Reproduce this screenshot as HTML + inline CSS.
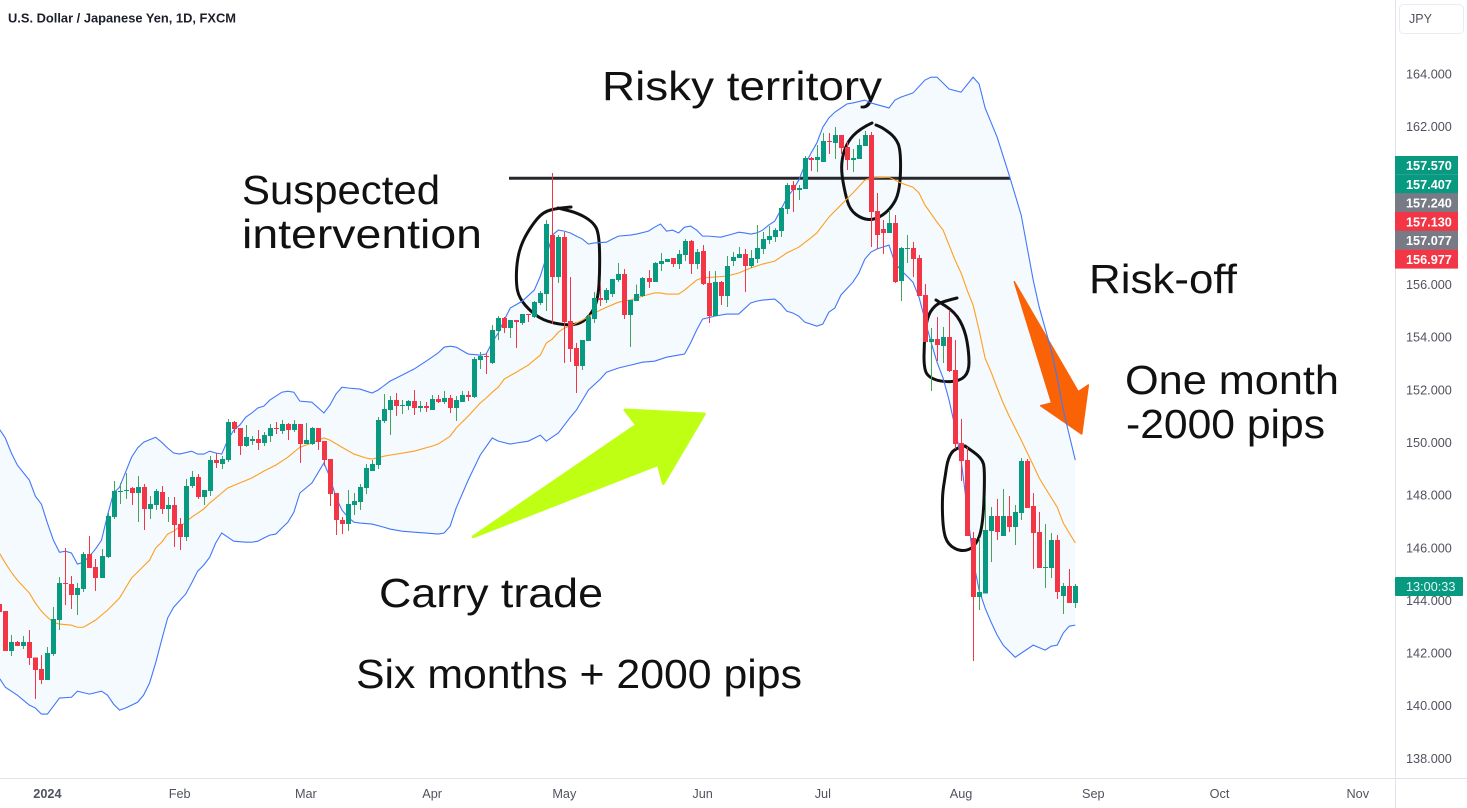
<!DOCTYPE html>
<html lang="en">
<head>
<meta charset="utf-8">
<title>USD/JPY 1D chart</title>
<style>
html,body{margin:0;padding:0;background:#fff;width:1467px;height:808px;overflow:hidden}
svg{display:block}
text{font-family:"Liberation Sans",sans-serif}
.note{font-size:41px;fill:#111}
.tick{font-size:12.7px;fill:#50535e}
.tag{font-size:12.7px;fill:#fff;font-weight:700}
</style>
</head>
<body>
<svg id="chart" width="1467" height="808" viewBox="0 0 1467 808" xmlns="http://www.w3.org/2000/svg">
  <defs><clipPath id="plot-clip"><rect x="0" y="0" width="1395" height="778"/></clipPath></defs>
  <g id="band-layer" clip-path="url(#plot-clip)"></g>

  <g id="drawings">
    <line x1="509" y1="178.3" x2="1010" y2="178.3" stroke="#26282c" stroke-width="3"/>
    <polygon points="473.3,536.7 636.7,425 625,410 704.3,414 663.3,483.3 658.3,464.3" fill="#bfff13" stroke="#bfff13" stroke-width="3" stroke-linejoin="round"/>
    <polygon points="1014.3,281.7 1051.7,403 1040.7,405.7 1081.7,434 1088.3,385 1078.3,391.7" fill="#fa6206" stroke="#fa6206" stroke-width="1.5" stroke-linejoin="round"/>
    <path class="ink" data-pts="571,207 558,208 543,212 532,225 522,242 517,260 516,283 519,298 532,313 547,322 572,326 587,320 598,302 600,267 599,233 593,222 578,213 558,208"/>
    <path class="ink" data-pts="872,123 863,127 850,138 843,153 841,170 845,193 850,210 862,219 875,220 890,210 900,192 901,150 895,137 883,128 876,125"/>
    <path class="ink" data-pts="957,298 945,301 935,305 927,317 924,343 924,370 930,378 943,382 960,381 969,372 969,353 965,330 955,312 936,300"/>
    <path class="ink" data-pts="965,446 955,448 948,458 945,477 942,497 943,530 948,545 962,552 975,547 983,527 985,470 982,458 965,446"/>
    <text class="note" x="602" y="100" textLength="280" lengthAdjust="spacingAndGlyphs">Risky territory</text>
    <text class="note" x="242" y="204" textLength="198" lengthAdjust="spacingAndGlyphs">Suspected</text>
    <text class="note" x="242" y="248" textLength="240" lengthAdjust="spacingAndGlyphs">intervention</text>
    <text class="note" x="1089" y="293" textLength="148" lengthAdjust="spacingAndGlyphs">Risk-off</text>
    <text class="note" x="1125" y="394" textLength="214" lengthAdjust="spacingAndGlyphs">One month</text>
    <text class="note" x="1126" y="438" textLength="199" lengthAdjust="spacingAndGlyphs">-2000 pips</text>
    <text class="note" x="379" y="607" textLength="224" lengthAdjust="spacingAndGlyphs">Carry trade</text>
    <text class="note" x="356" y="688" textLength="446" lengthAdjust="spacingAndGlyphs">Six months + 2000 pips</text>
  </g>

  <g id="line-layer" clip-path="url(#plot-clip)"></g>
  <g id="candle-layer" clip-path="url(#plot-clip)" shape-rendering="crispEdges"></g>

  <text x="8" y="22.5" font-size="13" font-weight="700" fill="#1c1f2a" textLength="228" lengthAdjust="spacingAndGlyphs">U.S. Dollar / Japanese Yen, 1D, FXCM</text>

  <line x1="1395.5" y1="0" x2="1395.5" y2="808" stroke="#e0e3eb"/>
  <line x1="0" y1="778.5" x2="1467" y2="778.5" stroke="#e0e3eb"/>
  <g id="price-axis"></g>
  <g id="time-axis"></g>
  <g id="price-tags"></g>

  <rect x="1399.5" y="4.5" width="64" height="29" rx="4" fill="#fff" stroke="#eaecf2"/>
  <text x="1409" y="23" font-size="12.5" fill="#50535e">JPY</text>

  <rect x="1395" y="577" width="68" height="19" rx="1" fill="#089981"/>
  <text x="1406" y="591" font-size="12.7" fill="#e6f7f3">13:00:33</text>
</svg>

<script>
var opens = [143.86,143.59,142.07,142.41,142.26,142.41,141.84,141.39,140.97,141.96,
143.25,144.66,144.62,144.20,144.43,145.76,145.26,144.85,145.64,147.16,
148.11,148.15,148.27,148.08,148.30,147.47,147.62,148.11,147.47,147.62,
146.90,146.40,148.34,148.68,147.92,148.15,149.33,149.18,149.33,150.77,
150.55,149.86,150.05,150.13,149.98,150.24,150.55,150.43,150.70,150.47,
150.70,149.94,149.94,150.55,150.05,149.37,148.08,147.05,146.90,147.62,
147.73,148.27,148.91,149.14,150.81,151.23,151.61,151.38,151.38,151.57,
151.31,151.38,151.23,151.65,151.53,151.69,151.31,151.53,151.80,151.72,
153.13,153.28,153.02,154.23,154.73,154.35,154.65,154.54,154.88,154.76,
155.30,155.64,157.88,156.28,157.80,154.61,153.59,152.90,153.85,154.69,
155.49,155.41,155.64,156.17,156.40,154.84,155.37,155.56,156.25,156.09,
156.78,156.85,157.01,156.78,157.12,157.65,156.78,157.27,156.06,154.80,
156.09,155.56,156.89,157.01,157.16,156.70,156.97,157.35,157.69,157.80,
158.03,158.87,159.78,159.59,159.63,160.81,160.73,160.65,161.45,161.38,
161.68,161.22,160.73,160.77,161.26,161.68,158.79,158.11,157.96,158.34,
156.13,157.35,157.39,157.01,155.60,153.81,153.93,153.66,154.00,152.75,
149.98,149.33,146.37,144.12,144.27,146.63,147.20,146.44,147.20,146.78,
147.32,149.29,147.58,146.59,145.23,145.23,146.29,144.16,144.54,143.90];

var closes = [143.55,142.07,142.41,142.26,142.41,141.81,141.35,140.97,142.00,143.29,
144.66,144.62,144.20,144.47,145.76,145.23,144.85,145.68,147.20,148.15,
148.15,148.19,148.08,148.30,147.47,147.66,148.15,147.47,147.62,146.86,
146.40,148.34,148.68,147.92,148.19,149.33,149.22,149.37,150.77,150.51,
149.86,150.20,150.13,149.98,150.28,150.55,150.51,150.70,150.47,150.70,
149.94,150.09,150.55,150.01,149.33,148.04,147.05,146.90,147.66,147.77,
148.30,149.03,149.18,150.85,151.27,151.61,151.38,151.42,151.57,151.31,
151.38,151.31,151.65,151.53,151.69,151.31,151.61,151.80,151.72,153.17,
153.28,153.24,154.27,154.73,154.35,154.65,154.57,154.88,154.84,155.33,
155.68,158.30,156.28,157.80,154.57,153.55,152.90,153.89,154.76,155.49,
155.41,155.79,156.21,156.40,154.84,155.41,155.64,156.25,156.09,156.82,
156.89,156.97,156.78,157.16,157.65,156.78,157.23,156.02,154.80,156.09,
155.56,156.70,157.04,157.16,156.70,157.01,157.39,157.73,157.84,158.07,
158.91,159.78,159.59,159.67,160.81,160.73,160.84,161.45,161.41,161.68,
161.19,160.73,160.81,161.30,161.68,158.75,157.88,157.96,158.34,156.09,
157.39,157.39,156.97,155.56,153.81,153.93,153.70,154.00,152.71,149.94,
149.29,146.44,144.12,144.31,146.67,147.20,146.59,147.20,146.78,147.35,
149.29,147.51,146.56,145.23,145.26,146.29,144.31,144.54,143.90,144.54];

var highs = [144.01,143.59,142.68,142.45,142.64,142.87,141.84,141.92,142.22,143.74,
144.88,145.99,144.92,144.66,145.83,146.44,145.57,145.95,147.32,148.53,
148.46,148.84,148.30,148.72,148.42,147.96,148.23,148.34,147.92,147.92,
147.13,148.61,148.91,148.80,148.19,149.48,149.60,149.48,150.89,150.81,
150.55,150.66,150.24,150.47,150.39,150.70,150.77,150.85,150.74,150.85,
150.70,150.74,150.58,150.55,150.05,149.37,148.08,147.16,148.19,148.08,
148.42,149.18,149.33,150.96,151.84,151.76,151.88,151.61,151.61,151.99,
151.57,151.53,151.80,151.80,151.95,151.80,151.76,151.95,151.95,153.24,
153.43,153.40,154.46,154.80,154.76,154.65,154.65,154.88,154.88,155.37,
155.75,158.45,160.24,157.88,157.99,156.28,153.78,153.89,154.88,155.71,
156.00,155.87,156.21,156.82,156.59,155.41,156.00,156.28,156.55,156.85,
157.20,156.97,157.01,157.31,157.73,157.69,157.35,157.50,156.51,156.51,
156.13,157.08,157.23,157.42,157.35,157.31,158.26,157.99,158.22,158.15,
158.94,159.86,159.93,159.78,160.88,160.84,161.30,161.76,161.76,161.98,
161.68,161.41,161.15,161.53,161.83,161.79,159.48,158.45,158.83,158.64,
157.42,157.88,157.61,157.12,156.02,154.35,154.76,154.38,155.03,153.89,
150.89,149.82,146.59,146.37,147.92,147.54,147.85,148.23,147.96,147.62,
149.41,149.37,148.08,147.35,146.90,146.56,146.48,144.66,145.19,144.62];

var lows = [143.40,142.07,141.88,142.26,142.15,141.54,140.25,140.82,140.97,141.88,
142.87,143.82,143.67,143.44,144.31,145.23,144.35,144.85,145.61,147.09,
147.66,147.85,147.62,146.97,146.67,147.09,147.43,147.28,146.97,146.02,
145.91,146.25,148.27,147.85,147.62,147.96,149.03,148.99,149.25,150.36,
149.52,149.82,149.90,149.71,149.86,150.01,150.32,150.32,150.09,150.39,
149.22,149.94,149.90,149.71,149.10,147.58,146.48,146.52,146.63,147.24,
147.43,148.04,148.91,148.99,150.74,150.28,151.00,151.08,151.23,151.04,
151.15,151.15,151.23,151.50,151.46,151.12,150.81,151.53,151.57,151.69,
152.79,152.60,152.98,153.89,154.16,153.97,153.59,154.46,154.57,154.73,
155.22,154.99,154.50,156.06,153.02,153.05,151.88,152.75,153.85,154.54,
155.18,155.30,155.52,156.09,154.69,153.62,155.37,155.52,155.87,156.09,
156.51,156.85,156.66,156.59,156.89,156.40,156.59,155.98,154.54,154.80,
155.22,155.14,156.70,157.01,155.71,156.63,156.82,157.16,157.54,157.61,
157.80,158.68,158.75,159.21,159.63,160.31,160.27,160.65,160.96,160.77,
160.96,160.35,160.27,160.77,161.26,157.42,157.35,157.16,157.96,156.06,
155.37,156.82,156.28,155.56,153.81,151.95,153.09,153.02,152.67,149.75,
148.53,146.44,141.69,143.63,144.27,145.45,146.29,146.44,146.59,146.10,
147.05,147.51,145.19,145.23,144.47,144.85,144.05,143.48,143.90,143.71];

var upperBars = [0,1,2,3,5,6,7,8,9,10,11,12,13,14,15,16,17,18,19,20,21,22,23,24,26,27,28,29,30,32,33,34,35,36,37,38,39,40,41,42,43,44,45,46,47,48,49,50,52,54,55,56,57,58,60,62,63,65,67,69,71,73,74,75,76,78,80,81,82,83,84,85,87,89,90,91,92,93,94,95,96,97,98,99,101,102,103,105,106,108,109,110,111,112,113,114,115,116,117,118,120,122,123,124,125,126,127,128,129,130,131,132,133,134,135,136,137,138,139,141,142,144,145,148,149,150,152,154,155,156,158,160,162,163,164,166,168,170,172,173,175,176,177,179];
var upperValues = [150.51,150.17,149.60,149.14,148.57,147.96,147.66,146.94,146.29,145.83,145.87,145.80,145.38,145.45,145.68,145.95,146.29,147.24,148.08,148.30,148.87,149.44,149.79,150.01,150.20,150.01,149.79,149.60,149.56,149.67,149.56,149.56,149.67,149.60,149.56,150.09,150.47,150.66,150.96,151.12,151.31,151.38,151.61,151.76,151.91,151.95,151.91,151.57,151.53,151.12,151.42,151.84,152.10,152.07,152.03,151.88,151.99,152.33,152.56,152.79,153.09,153.40,153.62,153.66,153.62,153.36,153.32,153.36,153.81,154.16,154.65,155.11,155.37,155.79,156.32,157.04,157.88,158.07,158.03,157.96,157.84,157.73,157.54,157.58,157.61,157.73,157.84,157.88,157.92,158.03,158.18,158.30,158.03,158.07,157.96,158.18,158.22,158.07,157.84,157.84,157.80,157.92,157.99,157.96,157.92,157.96,158.07,158.26,158.41,158.83,159.29,159.59,159.97,160.54,160.98,161.38,161.98,162.33,162.55,162.86,162.90,163.01,162.90,162.71,163.01,163.12,163.28,163.77,163.88,163.88,163.43,163.31,163.88,163.62,162.71,161.60,160.16,158.64,156.17,155.14,153.51,152.45,151.23,149.33];

var basisBars = [0,1,2,3,5,6,7,8,9,10,12,13,14,16,18,20,22,25,26,27,28,29,31,32,34,35,36,37,38,40,42,44,46,48,50,52,53,54,55,57,59,61,62,64,65,69,72,73,75,76,78,80,81,82,83,84,86,88,90,91,92,93,94,95,97,99,101,103,105,107,109,110,111,113,114,115,116,117,121,123,125,127,129,131,133,135,136,137,138,140,142,144,145,148,150,152,153,154,156,157,158,159,160,161,162,163,164,165,166,167,168,169,170,172,173,174,176,177,178,179];
var basisValues = [145.80,145.42,145.07,144.77,144.28,143.90,143.59,143.36,143.17,143.10,143.06,142.98,142.98,143.25,143.63,144.09,144.85,145.53,145.99,146.21,146.52,146.63,146.97,147.16,147.47,147.70,147.89,148.08,148.27,148.46,148.65,148.91,149.14,149.44,149.82,149.98,150.09,150.17,150.09,149.82,149.56,149.41,149.37,149.48,149.52,149.67,149.86,149.94,150.24,150.55,151.00,151.50,151.69,151.91,152.10,152.41,152.67,152.94,153.32,153.78,153.93,154.19,154.35,154.42,154.65,154.92,155.14,155.33,155.41,155.56,155.68,155.68,155.64,155.64,155.79,155.98,156.17,156.25,156.32,156.44,156.63,156.78,156.89,157.20,157.42,157.77,157.96,158.26,158.56,159.02,159.48,159.97,160.05,160.08,159.86,159.70,159.48,159.02,158.37,158.07,157.50,156.93,156.44,155.79,155.22,154.27,153.20,152.67,152.07,151.50,151.00,150.55,150.09,149.14,148.65,148.27,147.54,146.94,146.56,146.18];

var lowerBars = [0,1,3,5,6,7,8,9,10,12,13,15,17,18,19,20,21,23,24,25,26,27,28,29,31,32,33,34,35,36,37,39,41,42,43,44,45,46,47,48,49,50,52,54,55,56,57,58,59,60,62,64,65,67,69,71,73,74,75,76,78,80,82,83,85,86,88,90,91,93,95,96,98,100,101,103,105,107,109,111,113,114,115,116,117,119,121,123,125,126,127,129,130,131,132,133,134,136,137,138,139,140,142,143,144,145,146,148,149,150,152,153,154,155,156,157,158,159,160,161,162,163,164,165,166,167,169,172,174,175,176,177,178,179];
var lowerValues = [141.05,140.70,140.40,140.02,139.91,139.68,139.68,139.98,140.29,140.32,140.55,140.44,140.55,140.40,140.06,139.83,139.91,140.13,140.40,140.86,141.62,142.49,143.33,143.74,144.24,144.66,145.11,145.34,145.64,146.18,146.56,146.25,146.21,146.21,146.25,146.37,146.48,146.52,146.75,146.97,147.35,148.08,148.46,149.22,148.68,147.92,147.43,147.16,146.97,146.94,146.90,146.78,146.71,146.63,146.59,146.56,146.52,146.56,146.82,147.51,148.57,149.52,150.17,150.05,149.94,149.98,150.05,150.28,150.05,150.36,150.96,151.23,151.99,152.41,152.67,152.83,152.94,153.05,153.09,153.24,153.32,153.36,153.78,154.27,154.69,154.80,154.88,154.88,155.30,155.37,155.41,155.45,155.26,154.99,154.92,154.80,154.57,154.42,154.50,154.95,155.11,155.60,156.09,156.44,156.97,157.23,157.35,157.50,156.82,156.55,156.09,155.52,154.65,153.81,153.05,152.45,151.61,150.58,149.33,147.51,145.53,144.39,143.71,143.17,142.68,142.30,141.84,142.30,142.11,142.26,142.30,142.76,143.02,143.06];

var priceTicks = [164,162,160,158,156,154,152,150,148,146,144,142,140,138];
var tagLabels = ["157.570","157.407","157.240","157.130","157.077","156.977"];
var tagKinds = ["up","up","flat","down","flat","down"];
var monthLabels = ["2024","Feb","Mar","Apr","May","Jun","Jul","Aug","Sep","Oct","Nov"];
var monthBars = [8,30,51,72,94,117,137,160,182,203,226];

var NS = "http://www.w3.org/2000/svg";
var BAR_STEP = 6.011, BAR_ORIGIN = -0.68;
function xOf(bar){ return BAR_ORIGIN + BAR_STEP * bar; }
function yOf(price){ return 74 + 26.32 * (164 - price); }
function make(tag, parent){ var el = document.createElementNS(NS, tag); parent.appendChild(el); return el; }
function pathPoints(bars, values){ return bars.map(function(b, i){ return xOf(b).toFixed(2) + "," + yOf(values[i]).toFixed(2); }); }

var bandLayer = document.getElementById("band-layer");
var lineLayer = document.getElementById("line-layer");
var candleLayer = document.getElementById("candle-layer");

var fill = make("polygon", bandLayer);


fill.setAttribute("points", pathPoints(upperBars, upperValues).concat(pathPoints(lowerBars, lowerValues).reverse()).join(" "));
fill.setAttribute("fill", "#f5faff");

var upperLine = make("polyline", lineLayer);


upperLine.setAttribute("points", pathPoints(upperBars, upperValues).join(" "));
upperLine.setAttribute("fill", "none");
upperLine.setAttribute("stroke", "#4277fb");
upperLine.setAttribute("stroke-width", "1.1");

var lowerLine = make("polyline", lineLayer);


lowerLine.setAttribute("points", pathPoints(lowerBars, lowerValues).join(" "));
lowerLine.setAttribute("fill", "none");
lowerLine.setAttribute("stroke", "#4277fb");
lowerLine.setAttribute("stroke-width", "1.1");

var basisLine = make("polyline", lineLayer);


basisLine.setAttribute("points", pathPoints(basisBars, basisValues).join(" "));
basisLine.setAttribute("fill", "none");
basisLine.setAttribute("stroke", "#ff9f1c");
basisLine.setAttribute("stroke-width", "1.1");

opens.forEach(function(open, i){
  var close = closes[i], up = close >= open;
  var cx = Math.round(xOf(i));
  var wick = make("rect", candleLayer);
  
  
  wick.setAttribute("x", cx);
  wick.setAttribute("width", 1);
  wick.setAttribute("y", yOf(highs[i]));
  wick.setAttribute("height", Math.max(1, yOf(lows[i]) - yOf(highs[i])));
  wick.setAttribute("fill", up ? "#43a35a" : "#f23645");
  var body = make("rect", candleLayer);
  
  
  body.setAttribute("x", cx - 2);
  body.setAttribute("width", 5);
  body.setAttribute("y", yOf(Math.max(open, close)));
  body.setAttribute("height", Math.max(1, Math.abs(yOf(open) - yOf(close))));
  body.setAttribute("fill", up ? "#089981" : "#f23645");
});

var priceAxis = document.getElementById("price-axis");
priceTicks.forEach(function(p){
  var t = make("text", priceAxis);
  
  
  t.setAttribute("class", "tick");
  t.setAttribute("x", 1406);
  t.setAttribute("y", yOf(p) + 4.5);
  t.textContent = p.toFixed(3);
});

var timeAxis = document.getElementById("time-axis");
monthLabels.forEach(function(label, i){
  var t = make("text", timeAxis);
  
  
  t.setAttribute("class", "tick");
  t.setAttribute("x", xOf(monthBars[i]));
  t.setAttribute("y", 798);
  t.setAttribute("text-anchor", "middle");
  if (i === 0) { t.setAttribute("font-weight", "700"); }
  t.textContent = label;
});

var tagColors = { up: "#089981", flat: "#787b86", down: "#f23645" };
var priceTags = document.getElementById("price-tags");
var tagTop = 156, tagHeight = 18.8;
tagLabels.forEach(function(label, i){
  var r = make("rect", priceTags);
  
  
  r.setAttribute("x", 1395);
  r.setAttribute("y", tagTop + tagHeight * i - (i < 2 ? 0 : 0.4));
  r.setAttribute("width", 63);
  r.setAttribute("height", tagHeight + (i < 2 ? 0 : 0.2));
  r.setAttribute("fill", tagColors[tagKinds[i]]);
  var t = make("text", priceTags);
  
  
  t.setAttribute("class", "tag");
  t.setAttribute("x", 1406);
  t.setAttribute("y", tagTop + tagHeight * i + 14);
  t.textContent = label;
});

/* Smooth the hand-drawn circle annotations through their midpoints. */
document.querySelectorAll("path.ink").forEach(function(el){
  var pts = el.getAttribute("data-pts").split(" ").map(function(s){ return s.split(",").map(Number); });
  var d = "M" + pts[0][0] + " " + pts[0][1];
  for (var i = 1; i < pts.length - 1; i++) {
    var mx = (pts[i][0] + pts[i + 1][0]) / 2, my = (pts[i][1] + pts[i + 1][1]) / 2;
    d += " Q" + pts[i][0] + " " + pts[i][1] + " " + mx + " " + my;
  }
  d += " L" + pts[pts.length - 1][0] + " " + pts[pts.length - 1][1];
  el.setAttribute("d", d);
  el.setAttribute("fill", "none");
  el.setAttribute("stroke", "#111");
  el.setAttribute("stroke-width", "3");
  el.setAttribute("stroke-linecap", "round");
});
</script>
</body>
</html>
